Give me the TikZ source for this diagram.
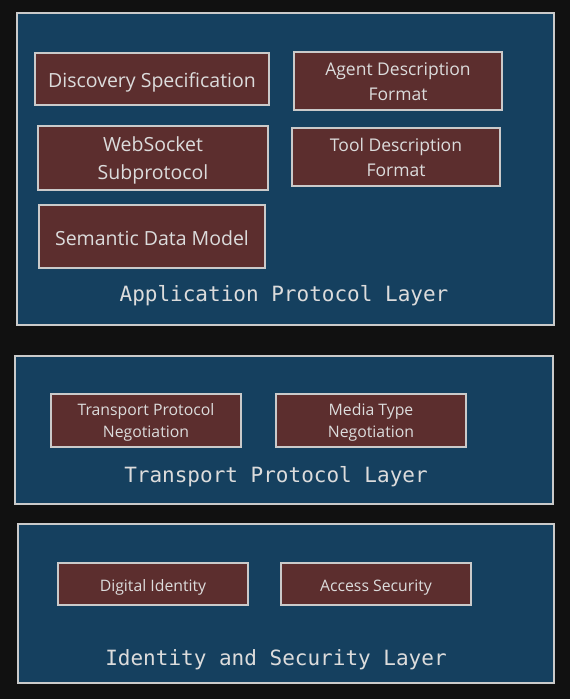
\documentclass[tikz,border=0pt]{standalone}
\usepackage{fontspec}
\setmainfont[Ligatures=NoCommon]{Open Sans}
\newfontfamily\labelmono{DejaVu Sans Mono}
\definecolor{bgdark}{HTML}{111111}
\definecolor{layerblue}{HTML}{15405F}
\definecolor{boxred}{HTML}{5C2E2E}
\definecolor{edgegray}{HTML}{CACACA}
\definecolor{txtgray}{HTML}{DCDCDC}
\newcommand{\twolines}[2]{\raisebox{-2pt}[\height][\depth]{\begin{tabular}{@{}c@{}}#1\\#2\end{tabular}}}
\begin{document}
\begin{tikzpicture}[x=1pt,y=-1pt,
  layerbox/.style={draw=edgegray,fill=layerblue,line width=1.5pt},
  compbox/.style={draw=edgegray,fill=boxred,line width=1.5pt,text=txtgray,align=center,inner sep=0pt},
  layerlabel/.style={text=txtgray,font=\labelmono\fontsize{21}{24}\selectfont},
  bigtxt/.style={font=\fontsize{19.5}{27}\selectfont},
  midtxt/.style={font=\fontsize{17.5}{25}\selectfont},
  smalltxt/.style={font=\fontsize{15.8}{22}\selectfont}]
\fill[bgdark] (0,0) rectangle (570,699);
\useasboundingbox (0,0) rectangle (570,699);
% layers
\node[layerbox,minimum width=537pt,minimum height=312pt,anchor=north west] (app) at (16,12) {};
\node[layerbox,minimum width=538pt,minimum height=148pt,anchor=north west] (trans) at (14,355) {};
\node[layerbox,minimum width=536pt,minimum height=159pt,anchor=north west] (ident) at (17,523) {};
% application components
\node[compbox,bigtxt,minimum width=234pt,minimum height=52pt,text depth=0pt] (disc) at (152,79) {\raisebox{-3pt}{Discovery Specification}};
\node[compbox,midtxt,minimum width=208pt,minimum height=58pt] (agent) at (398,81) {\twolines{Agent Description}{Format}};
\node[compbox,bigtxt,minimum width=230pt,minimum height=64pt] (ws) at (153,158) {\raisebox{-2pt}[\height][\depth]{\begin{tabular}{@{}c@{}}WebSocket\\[1pt]Subprotocol\end{tabular}}};
\node[compbox,midtxt,minimum width=208pt,minimum height=58pt] (tool) at (396,157) {\twolines{Tool Description}{Format}};
\node[compbox,bigtxt,minimum width=226pt,minimum height=63pt,text depth=0pt] (sem) at (152,236.5) {\raisebox{-3pt}{Semantic Data Model}};
\node[layerlabel] (applabel) at (284,295.5) {Application Protocol Layer};
% transport components
\node[compbox,smalltxt,minimum width=190pt,minimum height=53pt] (tpn) at (146,420.5) {\twolines{Transport Protocol}{Negotiation}};
\node[compbox,smalltxt,minimum width=190pt,minimum height=53pt] (mtn) at (371,420.5) {\twolines{Media Type}{Negotiation}};
\node[layerlabel] (translabel) at (276,476.5) {Transport Protocol Layer};
% identity components
\node[compbox,smalltxt,minimum width=190pt,minimum height=42pt,text depth=0pt] (did) at (153,584) {\raisebox{-3pt}{Digital Identity}};
\node[compbox,smalltxt,minimum width=190pt,minimum height=42pt,text depth=0pt] (acc) at (376,584) {\raisebox{-3pt}{Access Security}};
\node[layerlabel] (identlabel) at (276,659.5) {Identity and Security Layer};
\end{tikzpicture}
\end{document}
